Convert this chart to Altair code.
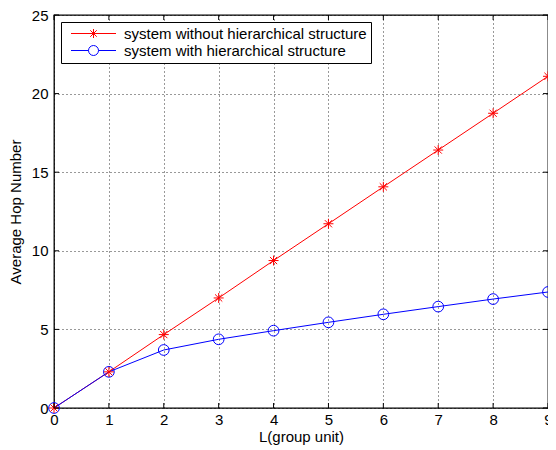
import altair as alt
import pandas as pd

L = [0, 1, 2, 3, 4, 5, 6, 7, 8, 9]
without_h = [0, 2.3, 4.67, 7.0, 9.38, 11.72, 14.07, 16.41, 18.75, 21.1]
with_h = [0, 2.3, 3.69, 4.37, 4.92, 5.45, 5.96, 6.45, 6.93, 7.38]
names = ["system without hierarchical structure", "system with hierarchical structure"]
colors = ["#ff0000", "#0000ff"]
x_ticks = [0, 1, 2, 3, 4, 5, 6, 7, 8, 9]
y_ticks = [0, 5, 10, 15, 20, 25]

W, H = 494, 393
FONT = "Liberation Sans"
FS = 15

df = pd.DataFrame({
    "L": L * 2,
    "hop": without_h + with_h,
    "series": [names[0]] * len(L) + [names[1]] * len(L),
})
xt = pd.DataFrame({"v": x_ticks})
yt = pd.DataFrame({"v": y_ticks})

xs = alt.Scale(domain=[0, 9], nice=False, zero=False)
ys = alt.Scale(domain=[0, 25], nice=False)
xax = alt.Axis(values=x_ticks, title="L(group unit)", grid=True, domain=False, ticks=False,
               labelFlush=False, labelPadding=4, titlePadding=2, format="d")
yax = alt.Axis(values=y_ticks, title="Average Hop Number", grid=True, domain=False, ticks=False,
               labelPadding=6, titlePadding=8, format="d")

STAR = "M-1,0H1M0,-1V1M-0.72,-0.72L0.72,0.72M-0.72,0.72L0.72,-0.72"
CIRC = "M1,0A1,1 0 1,1 -1,0A1,1 0 1,1 1,0"
LEG_STAR = "M-4.5,0H4.5M0,-0.9V0.9M-0.65,-0.65L0.65,0.65M-0.65,0.65L0.65,-0.65"
LEG_CIRC = "M-4.5,0H-1M1,0H4.5M1,0A1,1 0 1,1 -1,0A1,1 0 1,1 1,0"

base = alt.Chart(df)

axes_layer = base.mark_point(opacity=0).encode(
    x=alt.X("L:Q", scale=xs, axis=xax),
    y=alt.Y("hop:Q", scale=ys, axis=yax),
)

red_line = base.transform_filter(alt.datum.series == names[0]).mark_line(
    color=colors[0], strokeWidth=1).encode(x=alt.X("L:Q", scale=xs), y=alt.Y("hop:Q", scale=ys))
blue_line = base.transform_filter(alt.datum.series == names[1]).mark_line(
    color=colors[1], strokeWidth=1).encode(x=alt.X("L:Q", scale=xs), y=alt.Y("hop:Q", scale=ys))
blue_pts = base.transform_filter(alt.datum.series == names[1]).mark_point(
    shape=CIRC, size=115, color=colors[1], filled=False, opacity=1, strokeWidth=1).encode(
    x=alt.X("L:Q", scale=xs), y=alt.Y("hop:Q", scale=ys))
red_pts = base.transform_filter(alt.datum.series == names[0]).mark_point(
    shape=STAR, size=100, color=colors[0], filled=False, opacity=1, strokeWidth=1).encode(
    x=alt.X("L:Q", scale=xs), y=alt.Y("hop:Q", scale=ys))

legend = alt.Legend(title=None, orient="top-left", offset=7, padding=4,
                    strokeColor="black", fillColor="white", cornerRadius=0,
                    symbolSize=100, symbolOffset=21, labelOffset=23,
                    symbolStrokeWidth=1, labelFontSize=FS, labelFont=FONT,
                    labelColor="black", rowPadding=1, labelLimit=400)
legend_layer = base.transform_filter("false").mark_point(filled=False, opacity=1).encode(
    x=alt.X("L:Q", scale=xs), y=alt.Y("hop:Q", scale=ys),
    color=alt.Color("series:N", scale=alt.Scale(domain=names, range=colors), legend=legend, sort=names),
    shape=alt.Shape("series:N", scale=alt.Scale(domain=names, range=[LEG_STAR, LEG_CIRC]), legend=legend, sort=names),
)

bt = alt.Chart(xt).mark_rule(color="black", strokeWidth=1).encode(
    x=alt.X("v:Q", scale=xs), y=alt.value(H), y2=alt.value(H - 5))
tt = alt.Chart(xt).mark_rule(color="black", strokeWidth=1).encode(
    x=alt.X("v:Q", scale=xs), y=alt.value(0), y2=alt.value(5))
lt = alt.Chart(yt).mark_rule(color="black", strokeWidth=1).encode(
    y=alt.Y("v:Q", scale=ys), x=alt.value(0), x2=alt.value(5))
rt = alt.Chart(yt).mark_rule(color="black", strokeWidth=1).encode(
    y=alt.Y("v:Q", scale=ys), x=alt.value(W), x2=alt.value(W - 5))

chart = alt.layer(axes_layer, red_line, blue_line, blue_pts, red_pts, bt, tt, lt, rt, legend_layer).properties(
    width=W, height=H,
    background="white",
    autosize=alt.AutoSizeParams(type="none"),
    padding={"left": 46, "top": 7, "right": 0, "bottom": 44},
).configure_view(stroke="black", strokeWidth=1.3).configure_axis(
    labelFont=FONT, labelFontSize=FS, labelColor="black",
    titleFont=FONT, titleFontSize=FS, titleFontWeight="normal", titleColor="black",
    gridColor="black", gridDash=[1, 3], gridWidth=1, gridOpacity=0.8,
)

chart.save("out.html", embed_options={"renderer": "svg", "actions": False})
